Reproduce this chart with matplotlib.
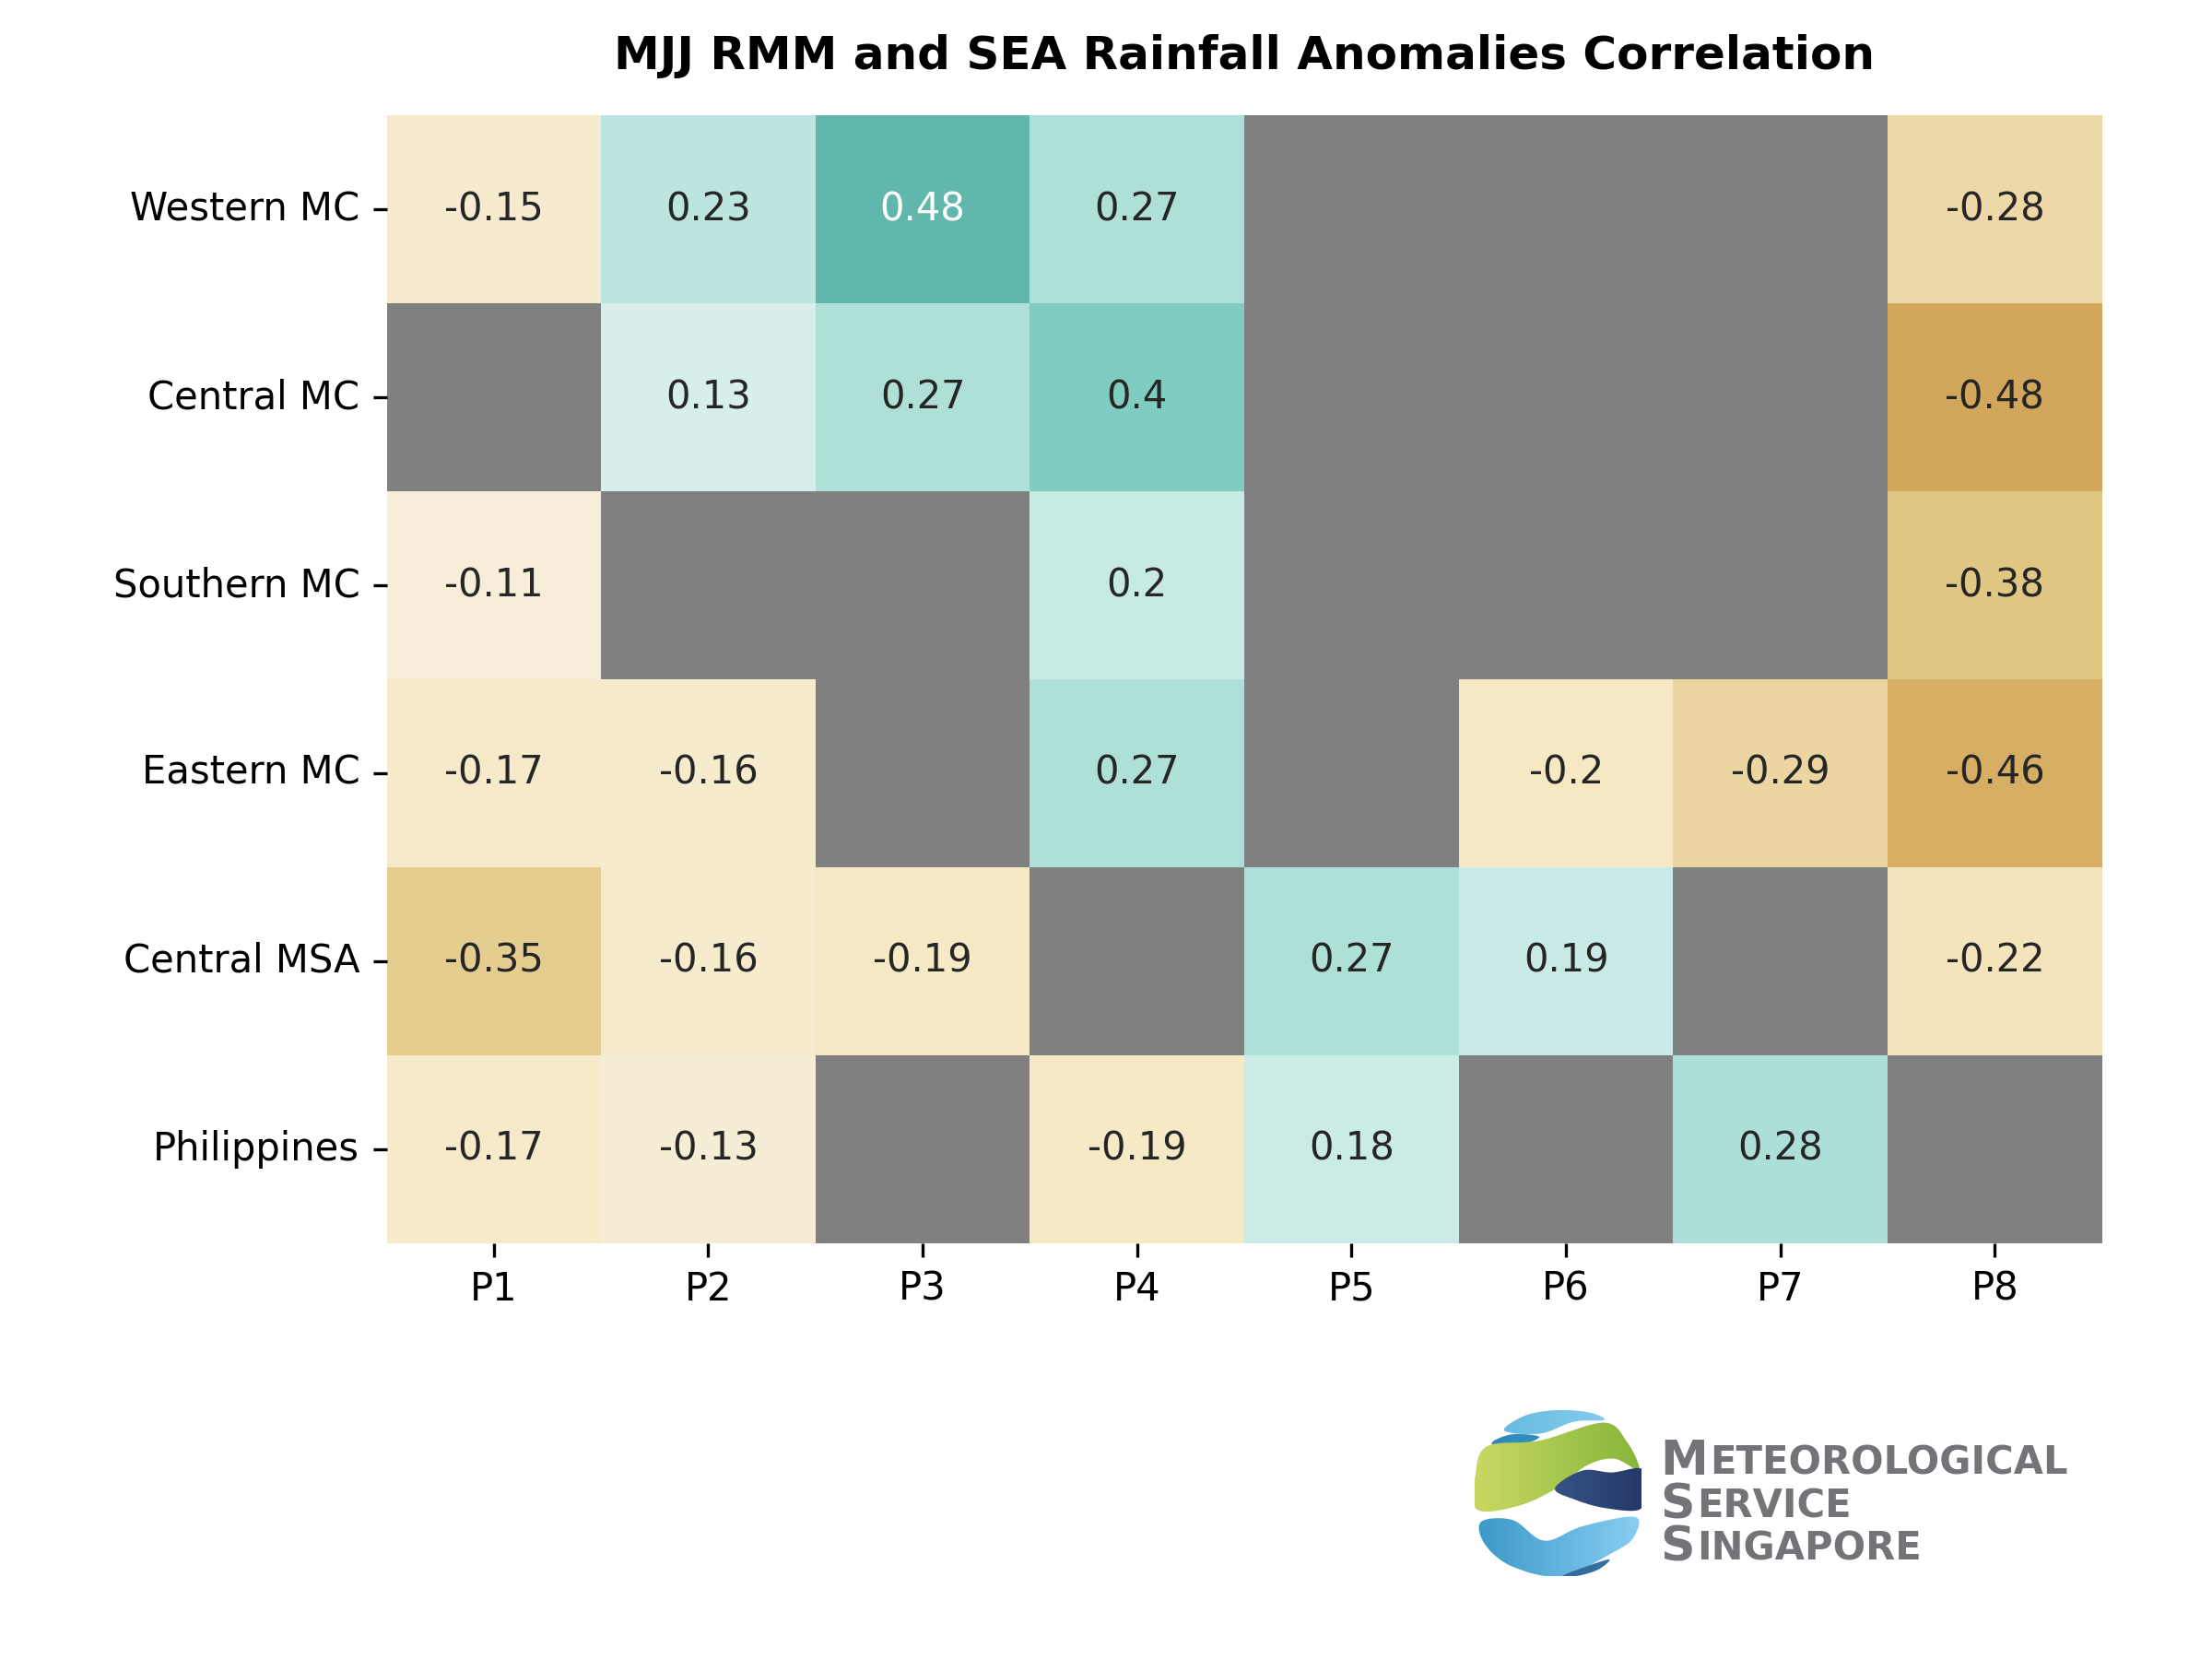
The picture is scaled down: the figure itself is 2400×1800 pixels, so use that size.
import numpy as np
import matplotlib
matplotlib.use("Agg")
import matplotlib.pyplot as plt
from matplotlib.path import Path
from matplotlib.colors import LinearSegmentedColormap
import seaborn as sns

# correlation values (NaN = not significant, shown grey)
regions = ["Western MC", "Central MC", "Southern MC", "Eastern MC", "Central MSA", "Philippines"]
phases = ["P1", "P2", "P3", "P4", "P5", "P6", "P7", "P8"]
nan = np.nan
western_mc = [-0.15, 0.23, 0.48, 0.27, nan, nan, nan, -0.28]
central_mc = [nan, 0.13, 0.27, 0.40, nan, nan, nan, -0.48]
southern_mc = [-0.11, nan, nan, 0.20, nan, nan, nan, -0.38]
eastern_mc = [-0.17, -0.16, nan, 0.27, nan, -0.20, -0.29, -0.46]
central_msa = [-0.35, -0.16, -0.19, nan, 0.27, 0.19, nan, -0.22]
philippines = [-0.17, -0.13, nan, -0.19, 0.18, nan, 0.28, nan]

corr = np.array([western_mc, central_mc, southern_mc, eastern_mc, central_msa, philippines])

fig = plt.figure(figsize=(8, 6), dpi=300)
ax = fig.add_axes([0.1748, 0.2508, 0.7755, 0.6795])
ax.set_facecolor("gray")
sns.heatmap(corr, cmap="BrBG", vmin=-1, vmax=1, annot=True, fmt=".2g",
            cbar=False, xticklabels=phases, yticklabels=regions, ax=ax)
ax.set_yticklabels(regions, rotation=0)
ax.set_title("MJJ RMM and SEA Rainfall Anomalies Correlation",
             fontsize=12, fontweight="bold", pad=12)


# --- Meteorological Service Singapore logo (drawn approximately) ---
lax = fig.add_axes([1600 / 2400, 1 - 1710 / 1800, 181 / 2400, 180 / 1800])
lax.set_xlim(95, 490)
lax.set_ylim(625, 95)
lax.axis("off")


def smooth(pts, n=20):
    # closed Catmull-Rom spline through pts
    pts = np.asarray(pts, float)
    out = []
    m = len(pts)
    for i in range(m):
        p0, p1, p2, p3 = pts[i - 1], pts[i], pts[(i + 1) % m], pts[(i + 2) % m]
        for t in np.linspace(0, 1, n, endpoint=False):
            t2, t3 = t * t, t * t * t
            out.append(0.5 * ((2 * p1) + (-p0 + p2) * t + (2 * p0 - 5 * p1 + 4 * p2 - p3) * t2
                              + (-p0 + 3 * p1 - 3 * p2 + p3) * t3))
    out.append(out[0])
    return Path(np.array(out), closed=True)


def grad_fill(pts, c1, c2):
    path = smooth(pts)
    cmap = LinearSegmentedColormap.from_list("g", [c1, c2])
    g = np.linspace(0, 1, 64)[None, :]
    im = lax.imshow(g, cmap=cmap, extent=(95, 490, 625, 95), aspect="auto",
                    origin="upper", interpolation="bilinear")
    im.set_clip_path(path, transform=lax.transData)


# top cap
grad_fill([(165, 160), (215, 112), (290, 95), (365, 102), (402, 126), (330, 132), (250, 170)],
          "#5fb8de", "#8fd0ee")
# small dark piece under cap
grad_fill([(138, 195), (185, 172), (248, 180), (205, 206), (148, 212)], "#2f86b9", "#3d9bcc")
# green band
grad_fill([(97, 300), (125, 210), (250, 192), (400, 135), (455, 195), (484, 285),
           (425, 250), (360, 272), (295, 340), (200, 400), (100, 412)],
          "#c9d862", "#86b63a")
# dark blue band
grad_fill([(285, 345), (350, 288), (420, 294), (490, 282), (494, 345), (486, 412),
           (405, 408), (335, 382)],
          "#3f6e9c", "#27386a")
# lower light-blue band
grad_fill([(110, 452), (185, 446), (260, 512), (350, 466), (474, 436), (472, 500),
           (425, 548), (300, 625), (185, 595), (120, 525)],
          "#3a98c8", "#88cff2")
# small dark piece at bottom
grad_fill([(302, 625), (360, 594), (414, 572), (388, 604), (340, 624)], "#2c5a8c", "#3b76a8")

logo_lines = [("M", "ETEOROLOGICAL", 0.1111), ("S", "ERVICE", 0.0850), ("S", "INGAPORE", 0.0594)]
for big, rest, yb in logo_lines:
    t = fig.text(0.7504, yb, big, fontsize=12.5, fontweight="bold", color="#737477",
                 ha="left", va="baseline")
    lax.annotate(rest, xy=(1, 0), xycoords=t, xytext=(0.5, 0.6),
                 textcoords="offset points", fontsize=10, fontweight="bold",
                 color="#737477", ha="left", va="bottom", annotation_clip=False)

fig.savefig("out.png", dpi=300)
